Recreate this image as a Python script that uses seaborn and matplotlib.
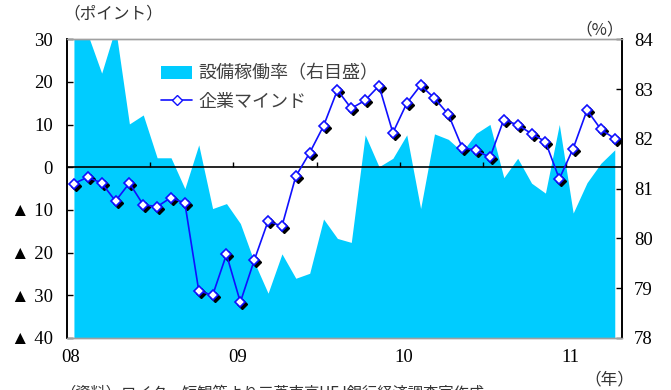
import numpy as np
import pandas as pd
import matplotlib
matplotlib.use("Agg")
import matplotlib.pyplot as plt
from matplotlib.transforms import ScaledTranslation
from matplotlib.patches import Patch
from matplotlib.lines import Line2D
import seaborn as sns

# Monthly series, Jan 2008 - Apr 2011
months = pd.period_range("2008-01", "2011-04", freq="M").astype(str).tolist()

# Capacity utilisation (%), right axis
utilisation = [84.3, 84.1, 83.32, 84.23, 82.30, 82.48, 81.62, 81.62, 81.00, 81.88,
               80.60, 80.70, 80.30, 79.53, 78.90, 79.69, 79.20, 79.30, 80.39, 80.00,
               79.92, 82.08, 81.44, 81.61, 82.08, 80.60, 82.10, 81.99, 81.74, 82.11,
               82.29, 81.22, 81.61, 81.11, 80.91, 82.29, 80.51, 81.12, 81.51, 81.78]

# Business sentiment index (points), left axis
sentiment = [-3.8, -2.3, -3.7, -7.9, -3.7, -8.8, -9.2, -7.1, -8.4, -28.9,
             -30.0, -20.4, -31.6, -21.8, -12.6, -13.8, -2.1, 3.4, 9.7, 18.1,
             13.8, 15.7, 19.1, 8.1, 15.0, 19.2, 16.2, 12.4, 4.6, 4.0,
             2.3, 11.2, 9.9, 7.9, 6.0, -2.7, 4.4, 13.4, 8.9, 6.7]

year_labels = ["08", "09", "10", "11"]
left_ticks = [30, 20, 10, 0, -10, -20, -30, -40]
right_ticks = [78, 79, 80, 81, 82, 83, 84]

df = pd.DataFrame({"month": months, "idx": np.arange(len(months)),
                   "util": utilisation, "mind": sentiment})

sns.set_theme(style="white")
plt.rcParams["font.family"] = ["Liberation Serif", "DejaVu Sans"]
JP = ["Noto Sans CJK JP", "DejaVu Sans"]

CYAN = "#00CCFF"
BLUE = "#1010FF"
NUM_SIZE = 13.5

fig = plt.figure(figsize=(6.71, 3.90), dpi=100)
ax = fig.add_axes([67 / 671, 1 - 338 / 390, (621.7 - 67) / 671, (338 - 39.3) / 390])
ax2 = ax.twinx()
ax.set_zorder(ax2.get_zorder() + 1)
ax.patch.set_visible(False)

# area series on the right-hand scale
ax2.fill_between(df["idx"], df["util"], 78, color=CYAN, linewidth=0)
ax2.set_ylim(78, 84)
ax2.set_yticks(right_ticks)
ax2.set_yticklabels([str(t) for t in right_ticks], fontsize=NUM_SIZE, color="black")
ax2.tick_params(axis="y", direction="in", length=4, width=1, color="black", pad=9,
                right=True)

# sentiment line with shadowed diamond markers
shadow = ax.transData + ScaledTranslation(2 / 100, -2 / 100, fig.dpi_scale_trans)
ax.plot(df["idx"], df["mind"], linestyle="none", marker="D", markersize=5.2,
        color="black", transform=shadow, zorder=3)
sns.lineplot(data=df, x="idx", y="mind", ax=ax, color=BLUE, linewidth=1.2,
             marker="D", markersize=5.2, markerfacecolor="white",
             markeredgecolor=BLUE, markeredgewidth=1.2, zorder=4)

ax.set_xlim(-0.5, len(months) - 0.5)
ax2.set_xlim(-0.5, len(months) - 0.5)
ax.set_ylim(-40, 30)
ax.set_yticks(left_ticks)
ax.set_yticklabels([str(t) if t >= 0 else f"▲ {abs(t)}" for t in left_ticks],
                   fontsize=NUM_SIZE, color="black")
ax.tick_params(axis="y", direction="in", length=4, width=1, color="black", pad=10,
               left=True)
ax.set_xlabel("")
ax.set_ylabel("")
ax2.set_ylabel("")

# zero line with half-year ticks
ax.axhline(0, color="black", linewidth=1.2, zorder=2)
ax.vlines(np.arange(5.5, len(months), 6), 0, 1.2, color="black", linewidth=1, zorder=2)

# year labels along the bottom
ax.set_xticks([-0.5, 11.5, 23.5, 35.5])
ax.set_xticklabels(year_labels, fontsize=NUM_SIZE, color="black")
ax.tick_params(axis="x", length=0, pad=8, bottom=True)
for lbl in ax.get_xticklabels():
    lbl.set_transform(lbl.get_transform() + ScaledTranslation(4 / 100, 0, fig.dpi_scale_trans))
ax2.tick_params(axis="x", length=0, labelbottom=False)

for a in (ax, ax2):
    for side in ("top", "bottom"):
        a.spines[side].set_color("#a0a0a0")
        a.spines[side].set_linewidth(1)
    for side in ("left", "right"):
        a.spines[side].set_color("black")
        a.spines[side].set_linewidth(1.2)

# legend
handles = [Patch(facecolor=CYAN, edgecolor="none"),
           Line2D([], [], color=BLUE, linewidth=1.2, marker="D", markersize=5,
                  markerfacecolor="white", markeredgecolor=BLUE)]
leg = ax.legend(handles, ["設備稼働率（右目盛）", "企業マインド"], loc="upper left",
                bbox_to_anchor=(0.153, 0.945), frameon=False, borderpad=0,
                handlelength=1.75, handleheight=0.8, handletextpad=0.35,
                labelspacing=0.55, prop={"family": JP, "size": 13})
for t in leg.get_texts():
    t.set_color("#404040")

# unit labels and source note
fig.text(63 / 671, 1 - 14 / 390, "（ポイント）", family=JP, fontsize=12,
         color="#333333", ha="left", va="center")
fig.text(624 / 671, 1 - 30 / 390, "（%）", family=JP, fontsize=12,
         color="#333333", ha="right", va="center")
fig.text(634 / 671, 1 - 380 / 390, "（年）", family=JP, fontsize=12,
         color="#333333", ha="right", va="center")
fig.text(60 / 671, 1 - 385 / 390, "（資料）ロイター短観等より三菱東京UFJ銀行経済調査室作成",
         family=JP, fontsize=11, color="#333333", ha="left", va="top")

fig.savefig("out.png", dpi=100)
